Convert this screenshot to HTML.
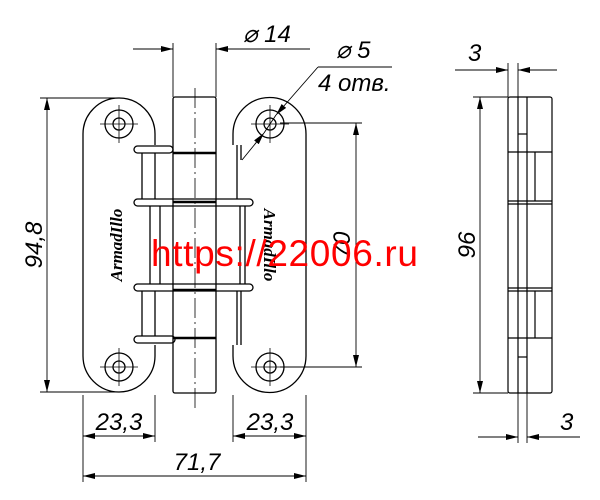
<!DOCTYPE html>
<html><head><meta charset="utf-8"><style>
html,body{margin:0;padding:0;background:#fff;width:600px;height:500px;overflow:hidden}
svg{display:block}
.t{font-family:"Liberation Sans",sans-serif;font-style:italic;font-size:24px;fill:#000}
.l{font-family:"Liberation Serif",serif;font-weight:bold;font-style:italic;font-size:17px;fill:#000}
</style></head><body>
<svg width="600" height="500" viewBox="0 0 600 500" xmlns="http://www.w3.org/2000/svg">
<defs>
<marker id="a" viewBox="0 0 12 6" refX="12" refY="3" markerWidth="12" markerHeight="6" orient="auto-start-reverse" markerUnits="userSpaceOnUse"><path d="M0,0 L12,3 L0,6 Z" fill="#000"/></marker>
</defs>
<g fill="none" stroke="#000" stroke-width="1.3">
<path d="M155,145 L155,134 A36,36 0 0 0 83,134 L83,356 A36,36 0 0 0 155,356 L155,345"/>
<circle cx="119" cy="124" r="14"/><circle cx="119" cy="124" r="6"/>
<circle cx="119" cy="367" r="14"/><circle cx="119" cy="367" r="6"/>
<path d="M233,145 L233,134 A36,36 0 0 1 306,134 L306,356 A36,36 0 0 1 233,356 L233,345"/>
<circle cx="270" cy="124" r="14"/><circle cx="270" cy="124" r="6"/>
<circle cx="270" cy="367" r="14"/><circle cx="270" cy="367" r="6"/>
<rect x="173" y="97" width="43" height="296" rx="2"/>
<line x1="173" y1="153" x2="216" y2="153" stroke-width="2.5"/>
<line x1="173" y1="202" x2="216" y2="202" stroke-width="2.5"/>
<line x1="173" y1="290" x2="216" y2="290" stroke-width="2.5"/>
<line x1="173" y1="338" x2="216" y2="338" stroke-width="2.5"/>
<rect x="134" y="146" width="39" height="7" rx="3.5"/>
<rect x="134" y="199" width="119" height="7" rx="3.5"/>
<rect x="134" y="284" width="119" height="7" rx="3.5"/>
<rect x="134" y="336" width="41" height="7" rx="3.5"/>
<line x1="142" y1="153" x2="142" y2="199"/><line x1="155" y1="153" x2="155" y2="199"/>
<line x1="142" y1="291" x2="142" y2="336"/><line x1="155" y1="291" x2="155" y2="336"/>
<line x1="150" y1="206" x2="150" y2="284"/><line x1="160" y1="206" x2="160" y2="284"/>
<line x1="237" y1="145" x2="237" y2="199"/><line x1="237" y1="291" x2="237" y2="345"/>
<line x1="241" y1="145" x2="241" y2="160"/><line x1="241" y1="291" x2="241" y2="345"/>
<line x1="240" y1="206" x2="240" y2="284"/><line x1="245" y1="206" x2="245" y2="284"/>
<g stroke-width="0.8">
<line x1="195" y1="88" x2="195" y2="410" stroke-dasharray="20,4,2,4"/>
<line x1="100" y1="124" x2="138" y2="124"/><line x1="119" y1="105" x2="119" y2="143"/>
<line x1="100" y1="367" x2="138" y2="367"/><line x1="119" y1="348" x2="119" y2="386"/>
<line x1="251" y1="124" x2="289" y2="124"/><line x1="270" y1="105" x2="270" y2="143"/>
<line x1="251" y1="367" x2="289" y2="367"/><line x1="270" y1="348" x2="270" y2="386"/>
</g>
</g>
<g fill="none" stroke="#000" stroke-width="0.9">
<line x1="40" y1="98" x2="118" y2="98"/><line x1="40" y1="392" x2="118" y2="392"/>
<line x1="47" y1="98" x2="47" y2="392" marker-start="url(#a)" marker-end="url(#a)"/>
<line x1="280" y1="123" x2="362" y2="123"/><line x1="280" y1="367" x2="362" y2="367"/>
<line x1="356" y1="123" x2="356" y2="367" marker-start="url(#a)" marker-end="url(#a)"/>
<line x1="173" y1="43" x2="173" y2="97"/><line x1="216" y1="43" x2="216" y2="97"/>
<line x1="133" y1="49" x2="173" y2="49" marker-end="url(#a)"/>
<line x1="310" y1="49" x2="216" y2="49" marker-end="url(#a)"/>
<line x1="242" y1="160" x2="264" y2="133" marker-end="url(#a)"/>
<line x1="318" y1="67" x2="276" y2="115" marker-end="url(#a)"/>
<line x1="264" y1="133" x2="276" y2="115"/>
<line x1="318" y1="67" x2="392" y2="67"/>
<line x1="83" y1="395" x2="83" y2="482"/><line x1="155" y1="395" x2="155" y2="442"/>
<line x1="233" y1="395" x2="233" y2="442"/><line x1="306" y1="395" x2="306" y2="482"/>
<line x1="83" y1="436" x2="155" y2="436" marker-start="url(#a)" marker-end="url(#a)"/>
<line x1="233" y1="436" x2="306" y2="436" marker-start="url(#a)" marker-end="url(#a)"/>
<line x1="83" y1="476" x2="306" y2="476" marker-start="url(#a)" marker-end="url(#a)"/>
<g stroke-width="1.2">
<rect x="508" y="97" width="44" height="296" rx="2"/>
<line x1="518" y1="97" x2="518" y2="393"/><line x1="527" y1="97" x2="527" y2="393"/>
<line x1="518" y1="134" x2="527" y2="134"/><line x1="518" y1="357" x2="527" y2="357"/>
<line x1="508" y1="152" x2="552" y2="152"/><line x1="508" y1="201" x2="552" y2="201"/><line x1="508" y1="204" x2="552" y2="204"/>
<line x1="508" y1="288" x2="552" y2="288"/><line x1="508" y1="291" x2="552" y2="291"/><line x1="508" y1="338" x2="552" y2="338"/>
<line x1="535" y1="152" x2="535" y2="201"/><line x1="535" y1="291" x2="535" y2="338"/>
</g>
<line x1="473" y1="97" x2="508" y2="97"/><line x1="473" y1="393" x2="508" y2="393"/>
<line x1="480" y1="97" x2="480" y2="393" marker-start="url(#a)" marker-end="url(#a)"/>
<line x1="508" y1="63" x2="508" y2="97"/><line x1="518" y1="63" x2="518" y2="97"/>
<line x1="455" y1="70" x2="508" y2="70" marker-end="url(#a)"/>
<line x1="557" y1="70" x2="518" y2="70" marker-end="url(#a)"/>
<line x1="518" y1="393" x2="518" y2="443"/><line x1="527" y1="393" x2="527" y2="443"/>
<line x1="478" y1="437" x2="518" y2="437" marker-end="url(#a)"/>
<line x1="580" y1="437" x2="527" y2="437" marker-end="url(#a)"/>
</g>
<text class="t" x="243" y="42">⌀ 14</text>
<text class="t" x="336" y="58">⌀ 5</text>
<text class="t" x="318" y="91">4 отв.</text>
<text class="t" transform="translate(42,245) rotate(-90)" text-anchor="middle">94,8</text>
<text class="t" transform="translate(350,245) rotate(-90)" text-anchor="middle">70</text>
<text class="t" transform="translate(475,245) rotate(-90)" text-anchor="middle">96</text>
<text class="t" x="119" y="430" text-anchor="middle">23,3</text>
<text class="t" x="270" y="430" text-anchor="middle">23,3</text>
<text class="t" x="197" y="470" text-anchor="middle">71,7</text>
<text class="t" x="468" y="61">3</text>
<text class="t" x="560" y="430">3</text>
<text class="l" transform="translate(122,245) rotate(-90)" text-anchor="middle">ArmadIllo</text>
<text class="l" transform="translate(264,245) rotate(90)" text-anchor="middle">ArmadIllo</text>
<text x="151" y="266" fill="#f00" textLength="267" style="font-family:'Liberation Sans',sans-serif;font-size:37px">https://22006.ru</text>
</svg>
</body></html>
